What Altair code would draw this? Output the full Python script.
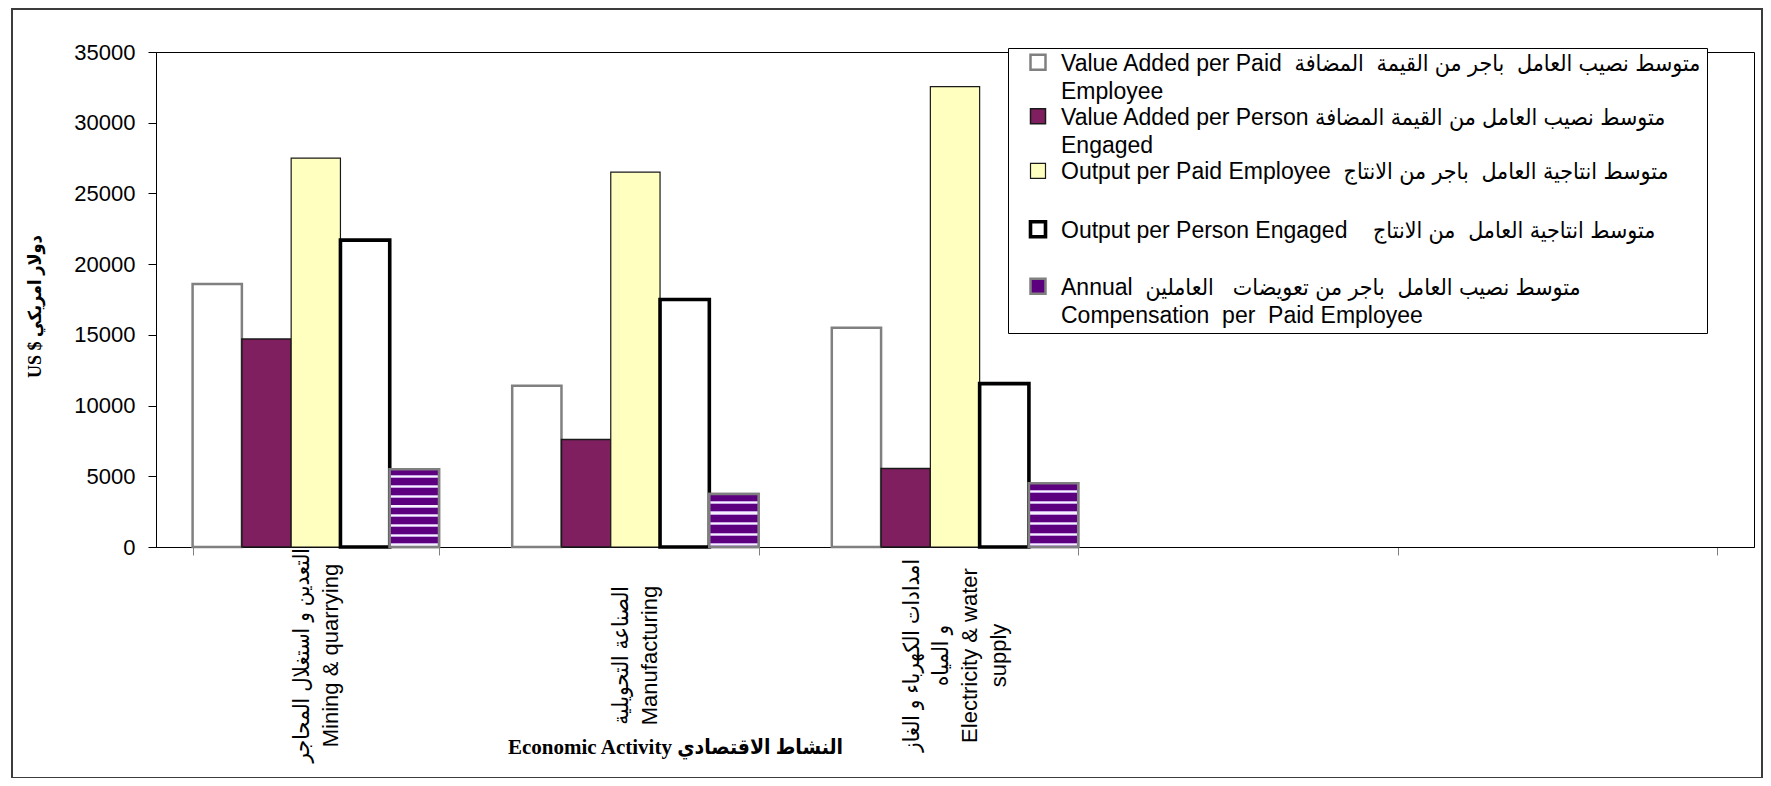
import altair as alt
import pandas as pd

# ---------------- data ----------------
activities = [
    "التعدين و استغلال المحاجر|Mining & quarrying",
    "الصناعة التحويلية|Manufacturing",
    "امدادات الكهرباء و الغاز|و المياه|Electricity & water|supply",
    " ",
    "  ",
]
series = [
    "Value Added per Paid\u00a0 متوسط نصيب العامل\u00a0 باجر من القيمة\u00a0 المضافة\u00a0\u00a0|Employee",
    "Value Added per Person متوسط نصيب العامل من القيمة المضافة|\u00a0Engaged",
    "Output per Paid Employee\u00a0 متوسط انتاجية العامل\u00a0 باجر من الانتاج| ",
    "Output per Person Engaged\u00a0\u00a0\u00a0 متوسط انتاجية العامل\u00a0 من الانتاج| ",
    "\u00a0Annual\u00a0 متوسط نصيب العامل\u00a0 باجر من تعويضات\u00a0\u00a0 العاملين|Compensation\u00a0 per\u00a0 Paid Employee",
]
va_paid = [18600, 11400, 15500]
va_person = [14700, 7600, 5550]
out_paid = [27500, 26500, 32550]
out_person = [21700, 17500, 11550]
comp = [5500, 3750, 4500]
y_ticks = [0, 5000, 10000, 15000, 20000, 25000, 30000, 35000]

x_title = "Economic Activity النشاط الاقتصادي"
y_title = "US $ دولار امريكي"

# ---------------- styles ----------------
fills = ["#FFFFFF", "#7F1F5F", "#FFFFC0", "#FFFFFF", "#5C0080"]
strokes = ["#808080", "#1a1a1a", "#1a1a1a", "#000000", "#808080"]
widths = [2.5, 1.5, 1.2, 3.6, 2.5]
PURPLE, LAV, WHITE = "#5C0080", "#C8A6E6", "#F6F0FF"
FONT = "Liberation Sans, DejaVu Sans Condensed, DejaVu Sans, sans-serif"
SERIF = "Liberation Serif, DejaVu Sans Condensed, DejaVu Sans, serif"

rows = []
for i, act in enumerate(activities[:3]):
    for s, vals in zip(series, [va_paid, va_person, out_paid, out_person, comp]):
        rows.append({"activity": act, "act_idx": i, "series": s, "value": vals[i]})
df = pd.DataFrame(rows)


def stripes(n):
    stops = []
    for k in range(n):
        def f(t):
            return round(min(1.0, (k + t) / n), 5)
        stops += [
            {"offset": f(0), "color": PURPLE},
            {"offset": f(0.64), "color": PURPLE},
            {"offset": f(0.64), "color": LAV},
            {"offset": f(0.73), "color": LAV},
            {"offset": f(0.73), "color": WHITE},
            {"offset": f(0.85), "color": WHITE},
            {"offset": f(0.85), "color": LAV},
            {"offset": f(0.94), "color": LAV},
            {"offset": f(0.94), "color": PURPLE},
            {"offset": f(1), "color": PURPLE},
        ]
    return {"gradient": "linear", "x1": 0, "y1": 0, "x2": 0, "y2": 1, "stops": stops}


x_enc = alt.X(
    "activity:N",
    scale=alt.Scale(domain=activities, paddingInner=0.229, paddingOuter=0.1145),
    title=x_title,
    axis=alt.Axis(
        labelExpr="split(datum.label, '|')", labelAngle=270, labelAlign="center",
        labelBaseline="middle", labelPadding=100, labelFont=FONT, labelFontSize=22,
        labelLineHeight=29, labelColor="black", labelOverlap=False, labelLimit=400,
        labelOffset={"expr": "-(length(split(datum.label, '|')) - 1) * 14.5"},
        tickBand="extent", tickColor="#808080", tickSize=8, domainColor="black",
        grid=False, titleFont=SERIF, titleFontSize=21, titleFontWeight="bold",
        titleColor="black", titleX=519, titleY=200, titleAlign="center",
        titleBaseline="middle", titleAngle=0,
    ),
)
xo_enc = alt.XOffset("series:N", scale=alt.Scale(domain=series, paddingInner=0, paddingOuter=0))
y_enc = alt.Y(
    "value:Q",
    scale=alt.Scale(domain=[0, 35000], nice=False, zero=True),
    title=y_title,
    axis=alt.Axis(
        values=y_ticks, format="d", labelFont=FONT, labelFontSize=22, labelColor="black",
        labelPadding=13, tickColor="black", tickSize=8, domainColor="black", grid=False,
        titleFont=SERIF, titleFontSize=18, titleFontWeight="bold", titleColor="black",
        titleX=-121, titleY=254, titleAngle=270, titleAlign="center", titleBaseline="middle",
    ),
)

# symbol drawn as a 15px square, raised to the first text line (path units = 21px)
legend = alt.Legend(
    title=None, orient="none", legendX=852, legendY=-4, direction="vertical",
    labelExpr="split(datum.label, '|')", labelFont=FONT, labelFontSize=23,
    labelLimit=1000, labelBaseline="bottom", labelOffset=0,
    labelColor="black", symbolType="M-0.357,-0.986H0.357V-0.271H-0.357Z", symbolSize=1764,
    symbolOffset=2, rowPadding=1.5, padding=5, strokeColor="black", fillColor="white",
)

bars = alt.Chart(df).mark_bar().encode(
    x=x_enc,
    xOffset=xo_enc,
    y=y_enc,
    fill=alt.Fill("series:N", scale=alt.Scale(domain=series, range=fills), legend=legend),
    stroke=alt.Stroke("series:N", scale=alt.Scale(domain=series, range=strokes), legend=legend),
    strokeWidth=alt.StrokeWidth(
        "series:N", scale=alt.Scale(type="ordinal", domain=series, range=widths), legend=legend
    ),
)

comp_fill = alt.FillValue(
    value=stripes(6),
    condition=[
        {"test": f"datum.act_idx === {i}", "value": stripes(max(3, round(v / 700)))}
        for i, v in enumerate(comp)
    ],
)
stripe_layer = (
    alt.Chart(df)
    .transform_filter(alt.FieldEqualPredicate(field="series", equal=series[4]))
    .mark_bar(stroke="#808080", strokeWidth=2.5)
    .encode(x=x_enc, xOffset=xo_enc, y=y_enc, fill=comp_fill)
)

frame = alt.Chart(pd.DataFrame({"k": [0]})).mark_rect(
    fillOpacity=0, stroke="#3c3c3c", strokeWidth=2
).encode(x=alt.value(-144), x2=alt.value(1606), y=alt.value(-43), y2=alt.value(726))

chart = (
    alt.layer(frame, bars, stripe_layer)
    .properties(
        width=1598,
        height=495,
        padding={"left": 148, "top": 44, "right": 9, "bottom": 231},
        autosize=alt.AutoSizeParams(type="none"),
        background="white",
    )
    .configure(style={"guide-label": {"lineHeight": 28.5}})
    .configure_view(stroke="black", strokeWidth=1)
)

chart.save("out.html", embed_options={"renderer": "svg", "actions": False})
